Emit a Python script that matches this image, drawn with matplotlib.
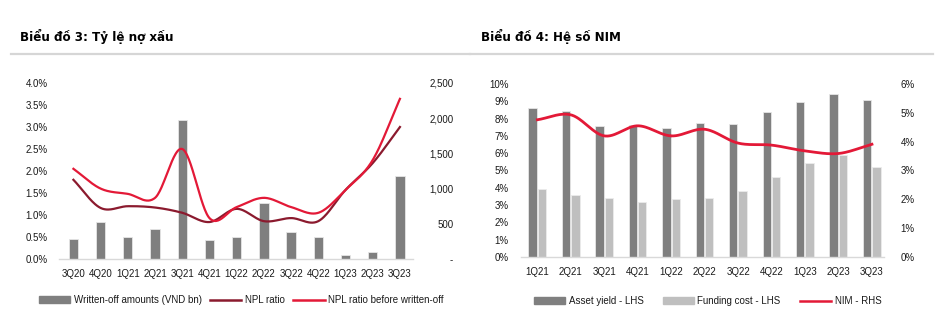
import numpy as np
import matplotlib.pyplot as plt
from matplotlib.patches import Patch
from matplotlib.lines import Line2D
from matplotlib.ticker import FuncFormatter

plt.rcParams['font.family'] = ['Liberation Sans', 'DejaVu Sans']

# NPL chart data
npl_quarters = ['3Q20', '4Q20', '1Q21', '2Q21', '3Q21', '4Q21', '1Q22',
                '2Q22', '3Q22', '4Q22', '1Q23', '2Q23', '3Q23']
written_off = [290, 525, 312, 426, 1975, 270, 312, 795, 383, 312, 57, 100, 1180]
npl_ratio = [1.80, 1.16, 1.20, 1.17, 1.05, 0.84, 1.14, 0.86, 0.93, 0.86, 1.57, 2.18, 3.00]
npl_before = [2.05, 1.60, 1.48, 1.39, 2.50, 0.93, 1.18, 1.39, 1.18, 1.05, 1.57, 2.25, 3.64]

# NIM chart data
nim_quarters = ['1Q21', '2Q21', '3Q21', '4Q21', '1Q22', '2Q22', '3Q22',
                '4Q22', '1Q23', '2Q23', '3Q23']
asset_yield = [8.61, 8.44, 7.57, 7.63, 7.44, 7.76, 7.69, 8.38, 8.97, 9.42, 9.08]
funding_cost = [3.93, 3.57, 3.43, 3.16, 3.35, 3.43, 3.84, 4.60, 5.43, 5.91, 5.20]
nim = [4.76, 4.93, 4.20, 4.55, 4.20, 4.43, 3.95, 3.88, 3.68, 3.59, 3.91]

DARK = '#7f7f7f'
LIGHT = '#bfbfbf'
MAROON = '#8b1a2e'
RED = '#e31937'
TXT = '#1a1a1a'
FS = 7.0


def smooth(x, y, n=30):
    # catmull-rom curve through the points, like a smoothed office line
    x = np.asarray(x, float)
    y = np.asarray(y, float)
    px = np.concatenate([[2 * x[0] - x[1]], x, [2 * x[-1] - x[-2]]])
    py = np.concatenate([[2 * y[0] - y[1]], y, [2 * y[-1] - y[-2]]])
    t = np.linspace(0, 1, n)[:, None]
    xs, ys = [], []
    for i in range(1, len(px) - 2):
        for p, out in ((px, xs), (py, ys)):
            p0, p1, p2, p3 = p[i - 1], p[i], p[i + 1], p[i + 2]
            seg = 0.5 * ((2 * p1) + (-p0 + p2) * t +
                         (2 * p0 - 5 * p1 + 4 * p2 - p3) * t ** 2 +
                         (-p0 + 3 * p1 - 3 * p2 + p3) * t ** 3)
            out.append(seg.ravel())
    return np.concatenate(xs), np.concatenate(ys)


def style_axes(ax, ax2, lpad, rpad):
    for a in (ax, ax2):
        for s in a.spines.values():
            s.set_visible(False)
        a.tick_params(length=0, labelsize=FS, colors=TXT)
    ax.spines['bottom'].set_visible(True)
    ax.spines['bottom'].set_color('#d9d9d9')
    ax.spines['bottom'].set_linewidth(1.0)
    ax.tick_params(axis='y', pad=lpad)
    ax.tick_params(axis='x', pad=7.5)
    ax2.tick_params(axis='y', pad=rpad)
    for lab in ax2.get_yticklabels():
        lab.set_horizontalalignment('right')


fig = plt.figure(figsize=(9.41, 3.30), dpi=100)

# header rules and titles
fig.add_artist(Line2D([11 / 941, 470 / 941], [1 - 54 / 330] * 2, color='#d6d6d6', lw=1.6))
fig.add_artist(Line2D([470 / 941, 933 / 941], [1 - 54 / 330] * 2, color='#d6d6d6', lw=1.6))
title_kw = dict(fontsize=9.5, fontweight='bold', fontstretch='condensed',
                family='DejaVu Sans', color='black')
fig.text(20 / 941, 1 - 41 / 330, 'Biểu đồ 3: Tỷ lệ nợ xấu', **title_kw)
fig.text(481 / 941, 1 - 41 / 330, 'Biểu đồ 4: Hệ số NIM', **title_kw)

# ---- left chart: NPL ----
ax = fig.add_axes([59 / 941, 71 / 330, 354 / 941, 176 / 330])
ax2 = ax.twinx()
x = np.arange(len(npl_quarters))
ax2.bar(x, written_off, width=0.34, color=DARK, edgecolor='#e6e6e6', linewidth=0.6, zorder=1)
ax.plot(*smooth(x, npl_ratio), color=MAROON, lw=1.6, zorder=3)
ax.plot(*smooth(x, npl_before), color=RED, lw=1.6, zorder=3)
ax.set_zorder(ax2.get_zorder() + 1)
ax.patch.set_visible(False)
ax.set_xlim(-0.53, 12.48)
ax.set_ylim(0, 4.0)
ax2.set_ylim(0, 2500)
ax.set_xticks(x)
ax.set_xticklabels(npl_quarters)
ax.set_yticks(np.arange(0, 4.01, 0.5))
ax.yaxis.set_major_formatter(FuncFormatter(lambda v, p: f'{v:.1f}%'))
ax2.set_yticks(np.arange(0, 2501, 500))
ax2.yaxis.set_major_formatter(FuncFormatter(lambda v, p: '-' if v == 0 else f'{v:,.0f}'))
style_axes(ax, ax2, 8, 29)

fig.legend(handles=[Patch(color=DARK, label='Written-off amounts (VND bn)'),
                    Line2D([], [], color=MAROON, lw=1.8, label='NPL ratio'),
                    Line2D([], [], color=RED, lw=1.8, label='NPL ratio before written-off')],
           loc='center left', bbox_to_anchor=(39 / 941, 1 - 300 / 330), ncol=3,
           frameon=False, fontsize=FS, handlelength=3.2, handleheight=0.6,
           handletextpad=0.35, columnspacing=0.9, borderaxespad=0, borderpad=0,
           labelcolor=TXT)

# ---- right chart: NIM ----
bx = fig.add_axes([521 / 941, 73 / 330, 363 / 941, 173 / 330])
bx2 = bx.twinx()
x = np.arange(len(nim_quarters))
bx.bar(x - 0.145, asset_yield, width=0.25, color=DARK, edgecolor='#e6e6e6', linewidth=0.6)
bx.bar(x + 0.135, funding_cost, width=0.25, color=LIGHT, edgecolor='#ececec', linewidth=0.6)
bx2.plot(*smooth(x, nim), color=RED, lw=2.0)
bx.set_xlim(-0.49, 10.36)
bx.set_ylim(0, 10)
bx2.set_ylim(0, 6)
bx.set_xticks(x)
bx.set_xticklabels(nim_quarters)
bx.set_yticks(np.arange(0, 11, 1))
bx.yaxis.set_major_formatter(FuncFormatter(lambda v, p: f'{v:.0f}%'))
bx2.set_yticks(np.arange(0, 7, 1))
bx2.yaxis.set_major_formatter(FuncFormatter(lambda v, p: f'{v:.0f}%'))
style_axes(bx, bx2, 9, 22)

fig.legend(handles=[Patch(color=DARK, label='Asset yield - LHS'),
                    Patch(color=LIGHT, label='Funding cost - LHS'),
                    Line2D([], [], color=RED, lw=1.8, label='NIM - RHS')],
           loc='center left', bbox_to_anchor=(534 / 941, 1 - 301 / 330), ncol=3,
           frameon=False, fontsize=FS, handlelength=3.2, handleheight=0.6,
           handletextpad=0.35, columnspacing=2.0, borderaxespad=0, borderpad=0,
           labelcolor=TXT)

fig.savefig('out.png', dpi=100)
